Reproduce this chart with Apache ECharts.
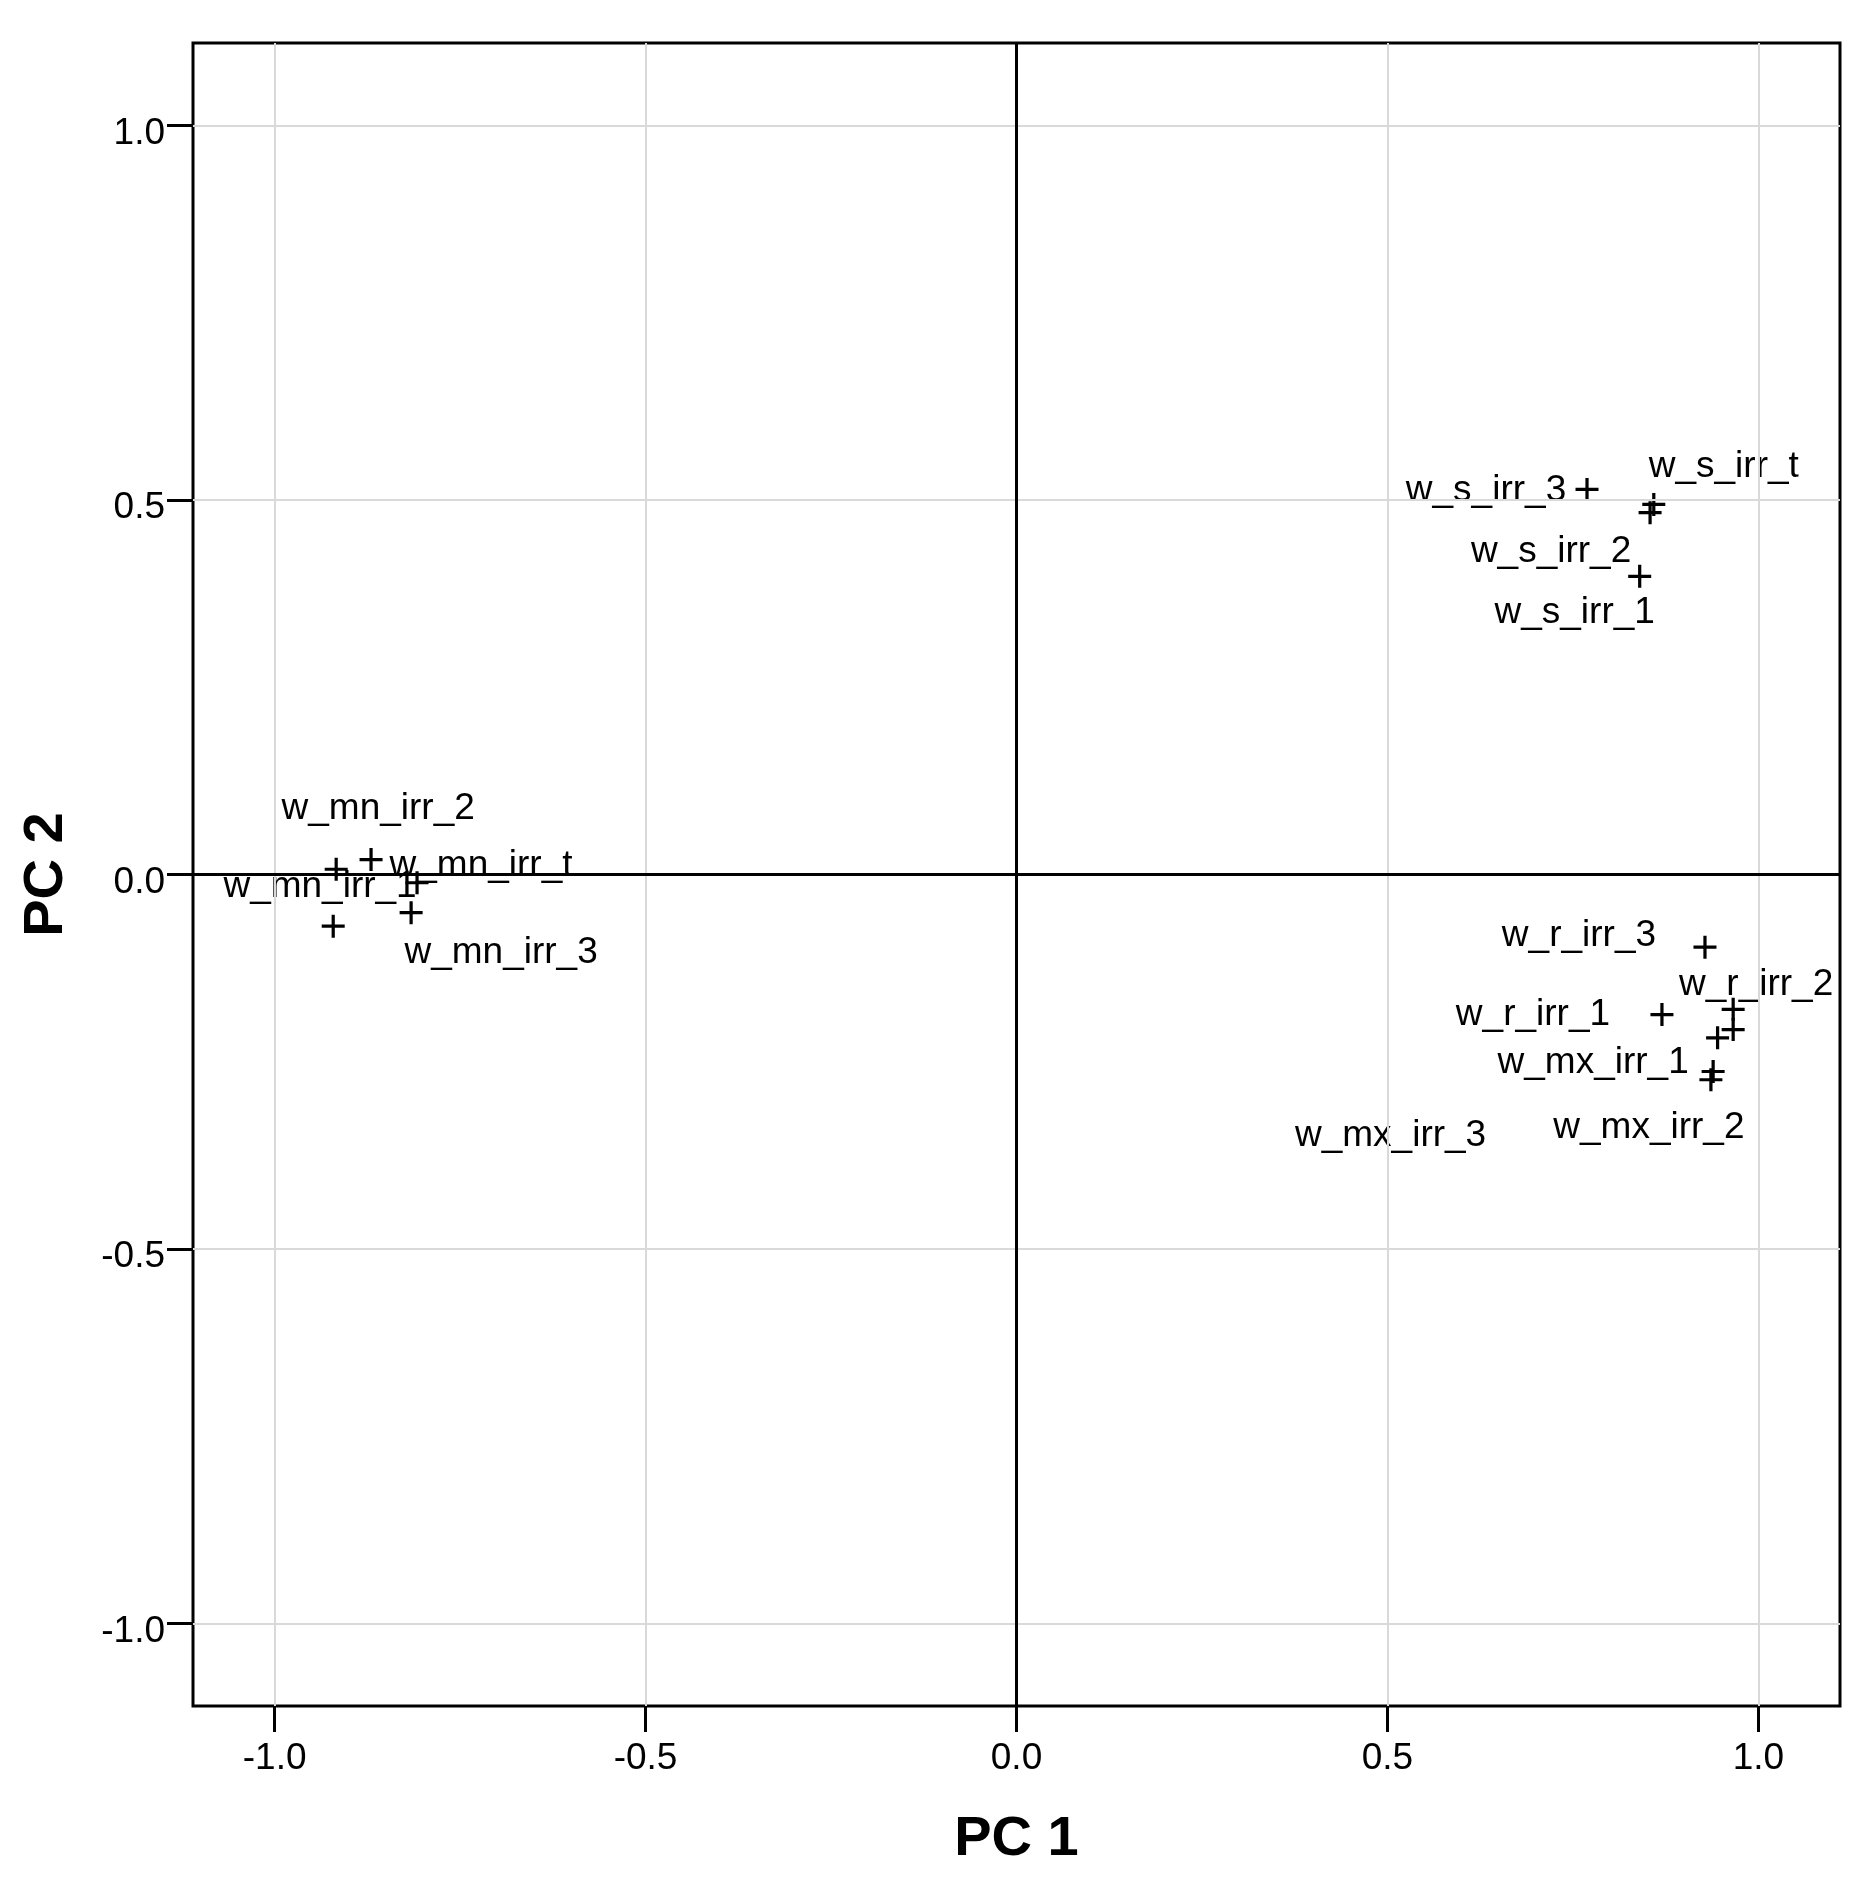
<!DOCTYPE html>
<html style="height: 100%">

<head>
    <meta charset="utf-8">
    <title>PC 1 / PC 2</title>
    <script type="text/javascript" src="https://cdn.jsdelivr.net/npm/echarts@6/dist/echarts.min.js"></script>
</head>

<body style="height: 100%; margin: 0; background: #fff">
    <div id="container" style="width: 1872px; height: 1881px"></div>

    <script type="text/javascript">
        // variable names and their loadings
        var names = ['w_s_irr_3', 'w_s_irr_t', 'w_s_irr_2', 'w_s_irr_1',
            'w_mn_irr_2', 'w_mn_irr_t', 'w_mn_irr_1', 'w_mn_irr_3', 'w_r_irr_t',
            'w_r_irr_3', 'w_r_irr_1', 'w_r_irr_2', 'w_mx_irr_t', 'w_mx_irr_3', 'w_mx_irr_1', 'w_mx_irr_2'];
        var pc1 = [0.769, 0.859, 0.854, 0.840,
            -0.917, -0.870, -0.808, -0.816, -0.921,
            0.928, 0.870, 0.966, 0.966, 0.945, 0.939, 0.936];
        var pc2 = [0.514, 0.494, 0.483, 0.398,
            0.007, 0.020, -0.011, -0.051, -0.069,
            -0.097, -0.187, -0.180, -0.207, -0.218, -0.263, -0.274];
        var tickValues = [-1.0, -0.5, 0.0, 0.5, 1.0];
        var gridValues = [-1.0, -0.5, 0.5, 1.0];

        // where each label sits relative to its marker (px), null = no label
        var labelOffset = {
            'w_s_irr_3': [-101, 1],
            'w_s_irr_t': [70, -38],
            'w_s_irr_2': [-99, 39],
            'w_s_irr_1': [-65, 36],
            'w_mn_irr_2': [42, -60],
            'w_mn_irr_t': [110, 6],
            'w_mn_irr_1': [-97, 4],
            'w_mn_irr_3': [90, 40],
            'w_r_irr_t': null,
            'w_r_irr_3': [-126, -11],
            'w_r_irr_1': [-129, 0],
            'w_r_irr_2': [23, -25],
            'w_mx_irr_t': null,
            'w_mx_irr_3': [-327, 98],
            'w_mx_irr_1': [-120, -9],
            'w_mx_irr_2': [-62, 48]
        };

        var plusPath = 'path://M43,0H57V43H100V57H57V100H43V57H0V43H43Z';

        var points = names.map(function (n, i) {
            return {
                name: n,
                value: [pc1[i], pc2[i]],
                label: { show: labelOffset[n] !== null }
            };
        });

        var gridLines = [];
        gridValues.forEach(function (v) {
            gridLines.push({ xAxis: v });
            gridLines.push({ yAxis: v });
        });

        var tickFont = "'Liberation Sans', Arial";
        var titleStyle = {
            fontFamily: "'Liberation Sans Narrow', 'Liberation Sans', Arial",
            fontWeight: 'bold',
            fontSize: 56,
            color: '#000'
        };

        var dom = document.getElementById("container");
        var myChart = echarts.init(dom);
        var option = {
            animation: false,
            backgroundColor: '#fff',
            grid: {
                show: true,
                left: 193,
                right: 32,
                top: 43,
                bottom: 175,
                borderColor: '#000',
                borderWidth: 3,
                backgroundColor: 'transparent'
            },
            xAxis: {
                type: 'value',
                min: -1.11,
                max: 1.11,
                name: 'PC 1',
                nameLocation: 'middle',
                nameGap: 106,
                nameTextStyle: titleStyle,
                axisLine: { show: false, onZero: false },
                axisTick: {
                    show: true,
                    length: 26,
                    customValues: tickValues,
                    lineStyle: { color: '#000', width: 3 }
                },
                axisLabel: {
                    customValues: tickValues,
                    margin: 34,
                    fontFamily: tickFont,
                    fontSize: 37,
                    color: '#000',
                    formatter: function (v) { return v.toFixed(1); }
                },
                splitLine: { show: false }
            },
            yAxis: {
                type: 'value',
                min: -1.11,
                max: 1.11,
                name: 'PC 2',
                nameLocation: 'middle',
                nameGap: 118,
                nameTextStyle: titleStyle,
                axisLine: { show: false, onZero: false },
                axisTick: {
                    show: true,
                    length: 26,
                    customValues: tickValues,
                    lineStyle: { color: '#000', width: 3 }
                },
                axisLabel: {
                    customValues: tickValues,
                    margin: 28,
                    color: '#000',
                    formatter: function (v) { return '{t|' + v.toFixed(1) + '}'; },
                    rich: {
                        t: {
                            fontFamily: tickFont,
                            fontSize: 37,
                            color: '#000',
                            padding: [16, 0, 0, 0]
                        }
                    }
                },
                splitLine: { show: false }
            },
            series: [
                {
                    // light reference grid
                    type: 'scatter',
                    data: [],
                    z: 1,
                    silent: true,
                    markLine: {
                        silent: true,
                        symbol: 'none',
                        label: { show: false },
                        lineStyle: { color: '#d9d9d9', width: 2, type: 'solid' },
                        data: gridLines
                    }
                },
                {
                    // zero lines
                    type: 'scatter',
                    data: [],
                    z: 2,
                    silent: true,
                    markLine: {
                        silent: true,
                        symbol: 'none',
                        label: { show: false },
                        lineStyle: { color: '#000', width: 3, type: 'solid' },
                        data: [{ xAxis: 0 }, { yAxis: 0 }]
                    }
                },
                {
                    type: 'scatter',
                    z: 3,
                    symbol: plusPath,
                    symbolSize: 23,
                    itemStyle: { color: '#000', opacity: 1 },
                    label: {
                        position: 'inside',
                        formatter: '{b}',
                        fontFamily: "'Liberation Sans', Arial",
                        fontSize: 37,
                        color: '#000'
                    },
                    labelLayout: function (params) {
                        var off = labelOffset[names[params.dataIndex]] || [0, 0];
                        return { dx: off[0], dy: off[1], hideOverlap: false };
                    },
                    data: points
                }
            ]
        };
        myChart.setOption(option, true);
    </script>
</body>

</html>
